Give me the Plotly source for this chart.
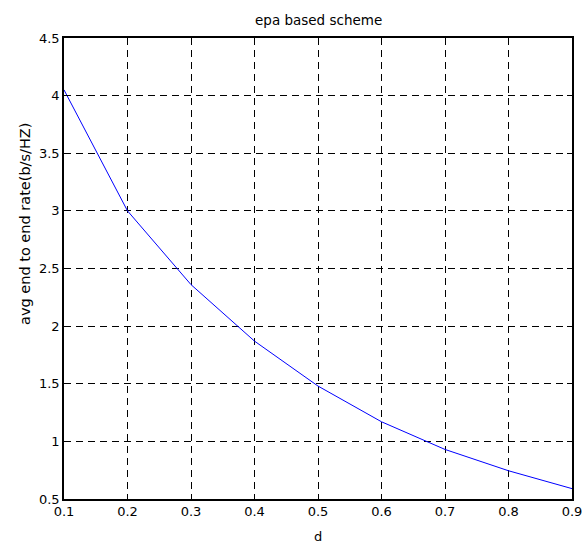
import plotly.graph_objects as go

d_vals = [0.1, 0.2, 0.3, 0.4, 0.5, 0.6, 0.7, 0.8, 0.9]
rate_vals = [4.05, 3.0, 2.36, 1.87, 1.48, 1.17, 0.93, 0.745, 0.59]

x_ticks = [0.1, 0.2, 0.3, 0.4, 0.5, 0.6, 0.7, 0.8, 0.9]
x_ticktext = ["0.1", "0.2", "0.3", "0.4", "0.5", "0.6", "0.7", "0.8", "0.9"]
y_ticks = [0.5, 1, 1.5, 2, 2.5, 3, 3.5, 4, 4.5]
y_ticktext = ["0.5", "1", "1.5", "2", "2.5", "3", "3.5", "4", "4.5"]

FAM = "DejaVu Sans, Arial, sans-serif"
tick_font = dict(family=FAM, size=13, color="black")

fig = go.Figure()
fig.add_trace(go.Scatter(x=d_vals, y=rate_vals, mode="lines",
                         line=dict(color="#0000ff", width=1)))

axis_common = dict(showline=True, mirror="allticks", linecolor="black", linewidth=1.5,
                   ticks="inside", ticklen=5, tickcolor="black",
                   showgrid=True, gridcolor="black", gridwidth=1, griddash="7px,5px",
                   zeroline=False, tickfont=tick_font, automargin=False)

fig.update_layout(
    template="none",
    width=588, height=544,
    margin=dict(l=64, r=16, t=38, b=45, pad=0),
    paper_bgcolor="white", plot_bgcolor="white",
    showlegend=False,
    xaxis=dict(range=[0.1, 0.9], tickvals=x_ticks, ticktext=x_ticktext, **axis_common),
    yaxis=dict(range=[0.5, 4.5], tickvals=y_ticks, ticktext=y_ticktext, **axis_common),
    annotations=[
        dict(text="epa based scheme", xref="paper", yref="paper", x=0.5,
             y=1 + (38 - 20) / 461, xanchor="center", yanchor="middle", showarrow=False,
             font=dict(family=FAM, size=13.5, color="black")),
        dict(text="d", xref="paper", yref="paper", x=0.5,
             y=-(536 - 499) / 461, xanchor="center", yanchor="middle", showarrow=False,
             font=dict(family=FAM, size=13, color="black")),
        dict(text="avg end to end rate(b/s/HZ)", xref="paper", yref="paper",
             x=-(64 - 25) / 508, y=(499 - 224) / 461, xanchor="center", yanchor="middle",
             textangle=-90, showarrow=False,
             font=dict(family=FAM, size=14.5, color="black")),
    ],
)

fig.write_html("out.html")
